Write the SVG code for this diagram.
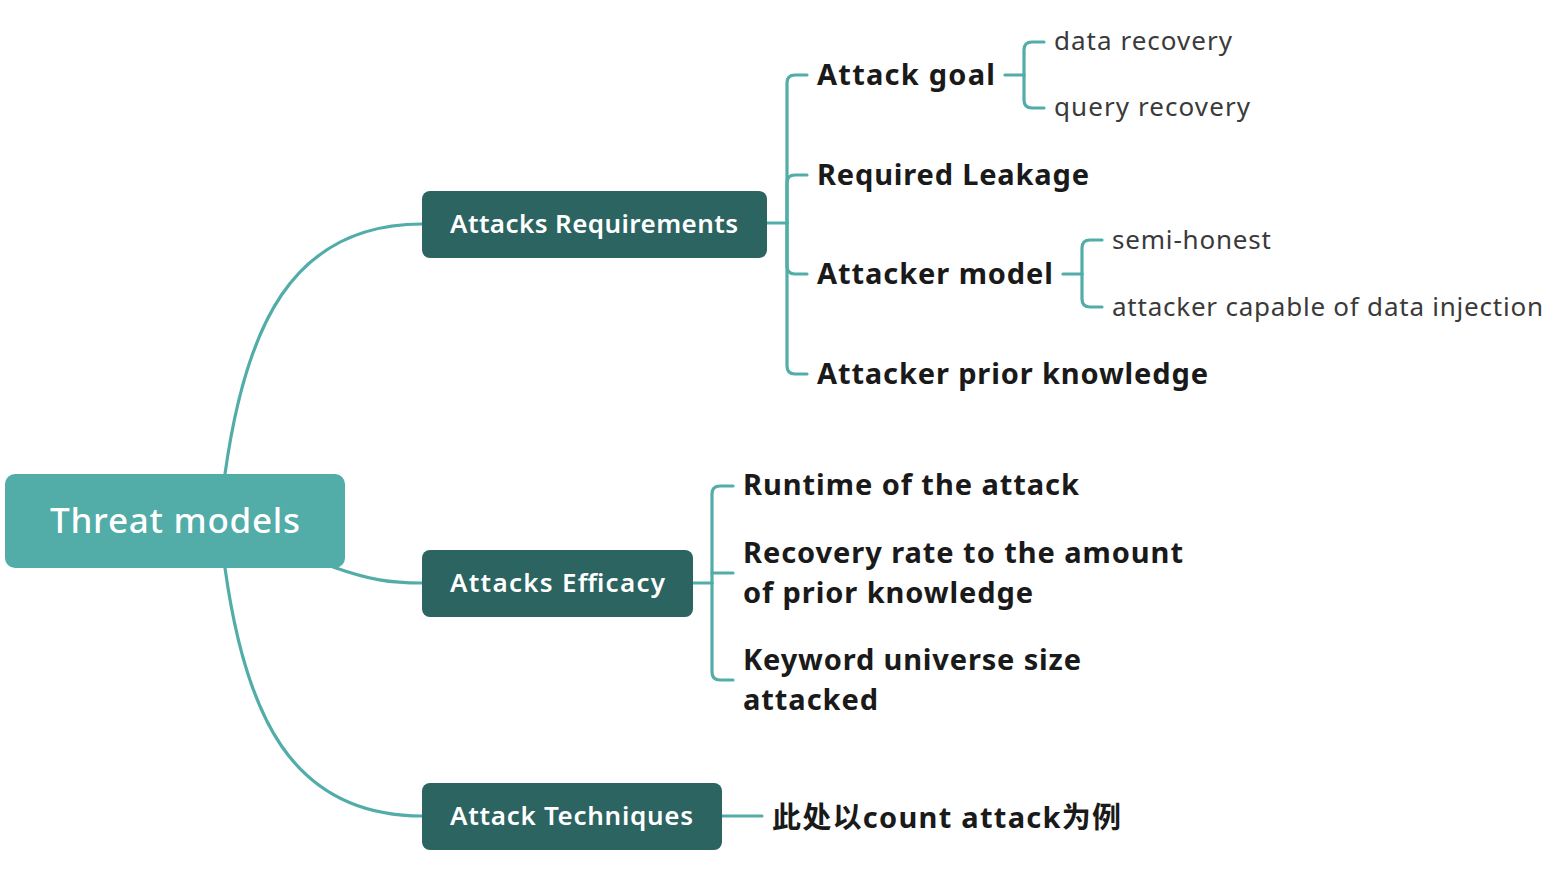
<svg xmlns="http://www.w3.org/2000/svg" width="1554" height="872" viewBox="0 0 1554 872">
<style>
.conn{fill:none;stroke:#52ADA9;stroke-width:3.2;stroke-linecap:round}
.root{fill:#52ACA8}
.main{fill:#2B6461}
.rt{font-family:"Noto Sans","Liberation Sans",sans-serif;font-size:35px;font-weight:500;fill:#ffffff}
.mt{font-family:"Noto Sans","Liberation Sans",sans-serif;font-size:26px;font-weight:600;fill:#ffffff}
.bt{font-family:"Noto Sans","Noto Sans CJK SC","Liberation Sans",sans-serif;font-size:29px;font-weight:700;fill:#1a1a1a}
.nt{font-family:"Noto Sans","Liberation Sans",sans-serif;font-size:26px;font-weight:400;fill:#3a3a3a}
</style>
<rect width="1554" height="872" fill="#ffffff"/>
<g id="connectors">
<path class="conn" d="M225,474 C245,330 290,224 422,224"/>
<path class="conn" d="M333,567 C370,580 390,583 422,583"/>
<path class="conn" d="M225,568 C245,712 290,816 422,816"/>
<path class="conn" d="M767,223 H787"/>
<path class="conn" d="M787,223 V83 Q787,75 795,75 H807"/>
<path class="conn" d="M787,223 V183 Q787,175 795,175 H807"/>
<path class="conn" d="M787,223 V266 Q787,274 795,274 H807"/>
<path class="conn" d="M787,223 V366 Q787,374 795,374 H807"/>
<path class="conn" d="M1005,75 H1024"/>
<path class="conn" d="M1024,75 V50 Q1024,42 1032,42 H1044"/>
<path class="conn" d="M1024,75 V100 Q1024,108 1032,108 H1044"/>
<path class="conn" d="M1063,274 H1082"/>
<path class="conn" d="M1082,274 V248 Q1082,240 1090,240 H1102"/>
<path class="conn" d="M1082,274 V299 Q1082,307 1090,307 H1102"/>
<path class="conn" d="M693,583 H712"/>
<path class="conn" d="M712,583 V494 Q712,486 720,486 H733"/>
<path class="conn" d="M712,573 H733"/>
<path class="conn" d="M712,583 V672 Q712,680 720,680 H733"/>
<path class="conn" d="M722,816 H762"/>
</g>
<g id="root">
<rect class="root" x="5" y="474" width="340" height="94" rx="10"/>
<text class="rt" x="175" y="533" text-anchor="middle" textLength="250">Threat models</text>
</g>
<g id="attacks-requirements">
<rect class="main" x="422" y="191" width="345" height="67" rx="8"/>
<text class="mt" x="450" y="233" textLength="288">Attacks Requirements</text>
</g>
<g id="attacks-efficacy">
<rect class="main" x="422" y="550" width="271" height="67" rx="8"/>
<text class="mt" x="450" y="592" textLength="215">Attacks Efficacy</text>
</g>
<g id="attack-techniques">
<rect class="main" x="422" y="783" width="300" height="67" rx="8"/>
<text class="mt" x="450" y="825" textLength="243">Attack Techniques</text>
</g>
<g id="attack-goal"><text class="bt" x="817" y="85" textLength="178">Attack goal</text></g>
<g id="data-recovery"><text class="nt" x="1054" y="50" textLength="178">data recovery</text></g>
<g id="query-recovery"><text class="nt" x="1054" y="116" textLength="196">query recovery</text></g>
<g id="required-leakage"><text class="bt" x="817" y="185" textLength="272">Required Leakage</text></g>
<g id="attacker-model"><text class="bt" x="817" y="284" textLength="236">Attacker model</text></g>
<g id="semi-honest"><text class="nt" x="1112" y="249" textLength="159">semi-honest</text></g>
<g id="data-injection"><text class="nt" x="1112" y="316" textLength="431">attacker capable of data injection</text></g>
<g id="prior-knowledge"><text class="bt" x="817" y="384" textLength="391">Attacker prior knowledge</text></g>
<g id="runtime"><text class="bt" x="743" y="495" textLength="336">Runtime of the attack</text></g>
<g id="recovery-rate"><text class="bt" x="743" y="563" textLength="440">Recovery rate to the amount</text><text class="bt" x="743" y="603" textLength="290">of prior knowledge</text></g>
<g id="keyword-universe"><text class="bt" x="743" y="670" textLength="338">Keyword universe size</text><text class="bt" x="743" y="710" textLength="135">attacked</text></g>
<g id="count-attack"><text class="bt" x="772" y="828" textLength="349">此处以count attack为例</text></g>
</svg>
